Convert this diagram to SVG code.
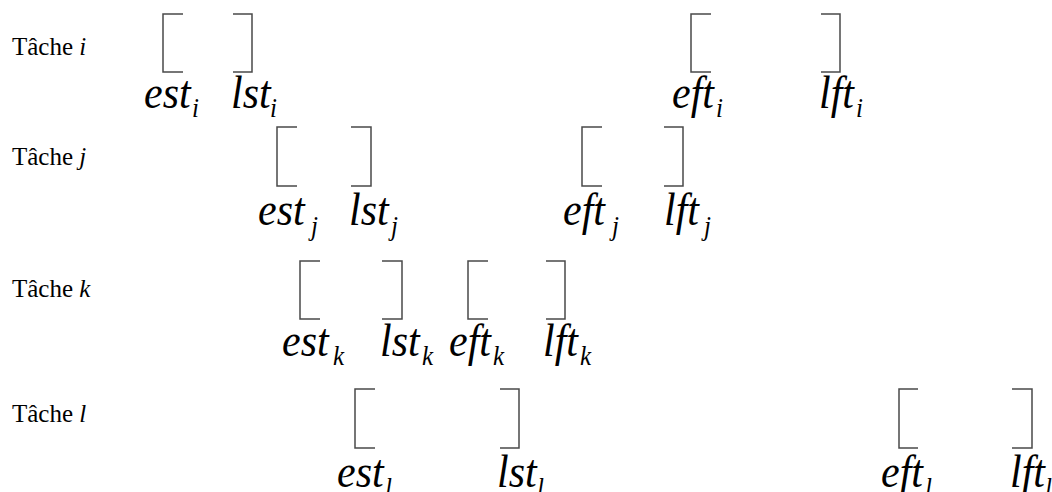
<svg xmlns="http://www.w3.org/2000/svg" width="1052" height="492" viewBox="0 0 1052 492">
<style>
.br{fill:none;stroke:#4a4a4a;stroke-width:1.5}
.lab{font-family:"Liberation Serif","Times New Roman",serif;font-size:25px;fill:#000}
.it{font-style:italic}
.m{font-family:"Liberation Serif","Times New Roman",serif;font-style:italic;font-size:42px;fill:#000}
.s{font-family:"Liberation Serif","Times New Roman",serif;font-style:italic;font-size:25px;fill:#000}
</style>
<rect width="1052" height="492" fill="#fff"/>
<g id="task-i">
<text class="lab" x="12" y="55">Tâche <tspan class="it">i</tspan></text>
<path class="br" d="M183 14H163V72H183M233 14H252V72H233M711 14H691V72H711M821 14H840V72H821"/>
<text class="m" transform="translate(144 108) scale(1 1.1)">est</text>
<text class="s" transform="translate(192 117) scale(1 1.1)">i</text>
<text class="m" transform="translate(231 108) scale(1 1.1)">lst</text>
<text class="s" transform="translate(270 117) scale(1 1.1)">i</text>
<text class="m" transform="translate(672 108) scale(1 1.1)">eft</text>
<text class="s" transform="translate(716 117) scale(1 1.1)">i</text>
<text class="m" transform="translate(819 108) scale(1 1.1)">lft</text>
<text class="s" transform="translate(856 117) scale(1 1.1)">i</text>
</g>
<g id="task-j">
<text class="lab" x="12" y="165">Tâche <tspan class="it">j</tspan></text>
<path class="br" d="M297 127H277V186H297M351 127H371V186H351M602 127H582V186H602M664 127H683V186H664"/>
<text class="m" transform="translate(258 225) scale(1 1.1)">est</text>
<text class="s" transform="translate(311 235) scale(1 1.1)">j</text>
<text class="m" transform="translate(349 225) scale(1 1.1)">lst</text>
<text class="s" transform="translate(391 235) scale(1 1.1)">j</text>
<text class="m" transform="translate(563 225) scale(1 1.1)">eft</text>
<text class="s" transform="translate(612 235) scale(1 1.1)">j</text>
<text class="m" transform="translate(664 225) scale(1 1.1)">lft</text>
<text class="s" transform="translate(704 235) scale(1 1.1)">j</text>
</g>
<g id="task-k">
<text class="lab" x="12" y="297">Tâche <tspan class="it">k</tspan></text>
<path class="br" d="M320 261H300V319H320M382 261H402V319H382M488 261H468V319H488M546 261H565V319H546"/>
<text class="m" transform="translate(282 356) scale(1 1.1)">est</text>
<text class="s" transform="translate(333 365) scale(1 1.1)">k</text>
<text class="m" transform="translate(380 356) scale(1 1.1)">lst</text>
<text class="s" transform="translate(422 365) scale(1 1.1)">k</text>
<text class="m" transform="translate(449 356) scale(1 1.1)">eft</text>
<text class="s" transform="translate(493 365) scale(1 1.1)">k</text>
<text class="m" transform="translate(543 356) scale(1 1.1)">lft</text>
<text class="s" transform="translate(580 365) scale(1 1.1)">k</text>
</g>
<g id="task-l">
<text class="lab" x="12" y="422">Tâche <tspan class="it">l</tspan></text>
<path class="br" d="M375 389H355V448H375M500 389H519V448H500M918 389H899V448H918M1012 389H1032V448H1012"/>
<text class="m" transform="translate(337 487) scale(1 1.1)">est</text>
<text class="s" transform="translate(385 497) scale(1 1.1)">l</text>
<text class="m" transform="translate(497 487) scale(1 1.1)">lst</text>
<text class="s" transform="translate(537 497) scale(1 1.1)">l</text>
<text class="m" transform="translate(881 487) scale(1 1.1)">eft</text>
<text class="s" transform="translate(925 497) scale(1 1.1)">l</text>
<text class="m" transform="translate(1010 487) scale(1 1.1)">lft</text>
<text class="s" transform="translate(1045 497) scale(1 1.1)">l</text>
</g>
<g id="connectors"/>
</svg>
